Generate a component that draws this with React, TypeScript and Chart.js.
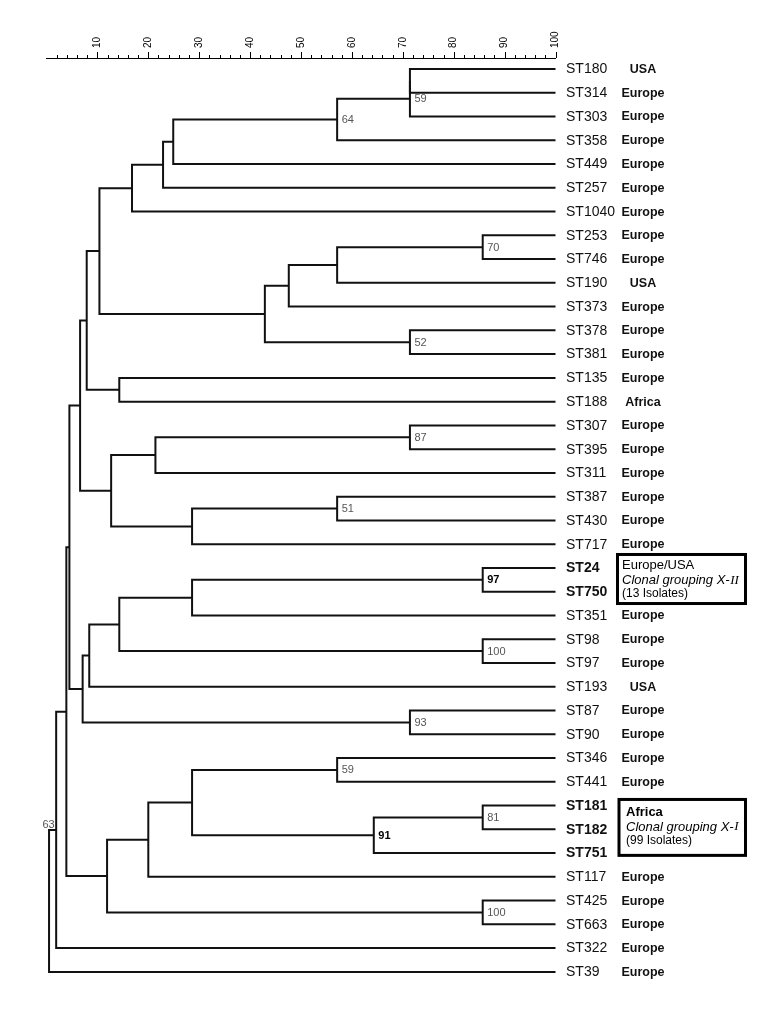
import React, { useEffect, useRef } from 'react';
import { Chart, registerables } from 'chart.js';

Chart.register(...registerables);

const FONT = '"Liberation Sans", Arial, Helvetica, sans-serif';
const SERIF = '"Liberation Serif", "Times New Roman", serif';

// ---- data ----
const leafNames = [
  'ST180', 'ST314', 'ST303', 'ST358', 'ST449', 'ST257', 'ST1040', 'ST253', 'ST746', 'ST190',
  'ST373', 'ST378', 'ST381', 'ST135', 'ST188', 'ST307', 'ST395', 'ST311', 'ST387', 'ST430',
  'ST717', 'ST24', 'ST750', 'ST351', 'ST98', 'ST97', 'ST193', 'ST87', 'ST90', 'ST346',
  'ST441', 'ST181', 'ST182', 'ST751', 'ST117', 'ST425', 'ST663', 'ST322', 'ST39',
];
const leafRegions = [
  'USA', 'Europe', 'Europe', 'Europe', 'Europe', 'Europe', 'Europe', 'Europe', 'Europe', 'USA',
  'Europe', 'Europe', 'Europe', 'Europe', 'Africa', 'Europe', 'Europe', 'Europe', 'Europe', 'Europe',
  'Europe', '', '', 'Europe', 'Europe', 'Europe', 'USA', 'Europe', 'Europe', 'Europe',
  'Europe', '', '', '', 'Europe', 'Europe', 'Europe', 'Europe', 'Europe',
];
const boldLeaves = ['ST24', 'ST750', 'ST181', 'ST182', 'ST751'];

// internal nodes: children (L = leaf index, N = node index) and similarity (%)
const nodeA = [
  'L0', 'N0', 'N1', 'N2', 'N3', 'N4', 'L7', 'N6', 'N7', 'L11', 'N8', 'N5', 'L13', 'N11', 'L15', 'N14', 'L18', 'N16', 'N15',
  'N13', 'L21', 'N20', 'L24', 'N21', 'N23', 'L27', 'N24', 'N19', 'L29', 'L31', 'N29', 'N28', 'N31', 'L35', 'N32', 'N27', 'N35', 'N36',
];
const nodeB = [
  'L1', 'L2', 'L3', 'L4', 'L5', 'L6', 'L8', 'L9', 'L10', 'L12', 'N9', 'N10', 'L14', 'N12', 'L16', 'L17', 'L19', 'L20', 'N17',
  'N18', 'L22', 'L23', 'L25', 'N22', 'L26', 'L28', 'N25', 'N26', 'L30', 'L32', 'L33', 'N30', 'L34', 'L36', 'N33', 'N34', 'L37', 'L38',
];
const nodeSimilarity = [
  71.4, 71.4, 57.1, 24.9, 22.9, 16.8, 85.7, 57.1, 47.6, 71.4, 42.9, 10.4, 14.3, 7.9, 71.4, 21.4, 57.1, 28.6, 12.7,
  6.6, 85.7, 28.6, 85.7, 14.3, 8.4, 71.4, 7.1, 4.5, 57.1, 85.7, 64.3, 28.6, 20.0, 85.7, 11.9, 3.9, 1.9, 0.5,
];
const nodeSupport = [
  '', '59', '64', '', '', '', '70', '', '', '52', '', '', '', '', '87', '', '51', '', '',
  '', '97', '', '100', '', '', '93', '', '', '59', '81', '91', '', '', '100', '', '', '63', '',
];
const boldSupport = ['97', '91'];

const tickLabels = [10, 20, 30, 40, 50, 60, 70, 80, 90, 100];
const minorStep = 2;

const boxII = ['Europe/USA', 'Clonal grouping X-', 'II', '(13 Isolates)'];
const boxI = ['Africa', 'Clonal grouping X-', 'I', '(99 Isolates)'];

// ---- layout of tree from the data ----
type P = { x: number; y: number };
const cache: Record<string, P> = {};
function pos(ref: string): P {
  if (cache[ref]) return cache[ref];
  const idx = parseInt(ref.slice(1), 10);
  let p: P;
  if (ref[0] === 'L') {
    p = { x: 100, y: idx };
  } else {
    const a = pos(nodeA[idx]);
    const b = pos(nodeB[idx]);
    p = { x: nodeSimilarity[idx], y: (a.y + b.y) / 2 };
  }
  cache[ref] = p;
  return p;
}

const datasets = nodeA.map((_, k) => {
  const a = pos(nodeA[k]);
  const b = pos(nodeB[k]);
  const s = nodeSimilarity[k];
  return {
    data: [
      { x: a.x, y: a.y },
      { x: s, y: a.y },
      { x: s, y: b.y },
      { x: b.x, y: b.y },
    ],
    showLine: true,
    borderColor: '#111',
    borderWidth: 2,
    pointRadius: 0,
    pointHoverRadius: 0,
    borderJoinStyle: 'miter' as const,
    borderCapStyle: 'butt' as const,
    tension: 0,
    clip: false as const,
  };
});

const textPlugin = {
  id: 'dendroText',
  afterDraw(chart: any) {
    const ctx: CanvasRenderingContext2D = chart.ctx;
    const xs = chart.scales.x;
    const ys = chart.scales.y;
    const axisY = chart.chartArea.top;
    ctx.save();

    // axis tick marks
    ctx.strokeStyle = '#000';
    ctx.lineWidth = 1;
    for (let v = minorStep; v <= 100; v += minorStep) {
      const px = Math.round(xs.getPixelForValue(v)) + 0.5;
      const len = tickLabels.includes(v) ? 6 : 3;
      ctx.beginPath();
      ctx.moveTo(px, axisY);
      ctx.lineTo(px, axisY - len);
      ctx.stroke();
    }
    // rotated axis labels
    ctx.fillStyle = '#000';
    ctx.font = '10px ' + FONT;
    tickLabels.forEach((t) => {
      const px = xs.getPixelForValue(t);
      ctx.save();
      ctx.translate(px, axisY - 10);
      ctx.rotate(-Math.PI / 2);
      ctx.textAlign = 'left';
      ctx.textBaseline = 'middle';
      ctx.fillText(String(t), 0, 0);
      ctx.restore();
    });

    // leaf labels and regions
    const x100 = xs.getPixelForValue(100);
    leafNames.forEach((name, i) => {
      const y = ys.getPixelForValue(i);
      ctx.fillStyle = '#111';
      ctx.textAlign = 'left';
      ctx.textBaseline = 'middle';
      ctx.font = (boldLeaves.includes(name) ? 'bold ' : '') + '14px ' + FONT;
      ctx.fillText(name, x100 + 10.5, y + 0.5);
      const r = leafRegions[i];
      if (r) {
        ctx.font = 'bold 12.5px ' + FONT;
        ctx.textAlign = 'center';
        ctx.fillText(r, x100 + 87.5, y + 0.5);
      }
    });

    // bootstrap support values
    nodeSupport.forEach((s, k) => {
      if (!s) return;
      const p = pos('N' + k);
      const px = xs.getPixelForValue(p.x);
      const py = ys.getPixelForValue(p.y);
      const bold = boldSupport.includes(s);
      ctx.font = (bold ? 'bold ' : '') + '11px ' + FONT;
      ctx.fillStyle = bold ? '#000' : '#555';
      if (k === 36) {
        ctx.textAlign = 'right';
        ctx.textBaseline = 'alphabetic';
        ctx.fillText(s, px - 1.5, py - 1.5);
      } else {
        ctx.textAlign = 'left';
        ctx.textBaseline = 'middle';
        ctx.fillText(s, px + 4.5, py + 0.5);
      }
    });

    // boxes
    const drawBox = (lines: string[], rowTop: number, rowBottom: number, lx: number, offs: number[], firstBold: boolean) => {
      const left = x100 + lx;
      const right = x100 + 191.5;
      const top = ys.getPixelForValue(rowTop);
      const bottom = ys.getPixelForValue(rowBottom);
      ctx.strokeStyle = '#000';
      ctx.lineWidth = 3;
      ctx.strokeRect(left + 1.5, top + 1.5, right - left - 3, bottom - top - 3);
      const tx = left + (firstBold ? 8.5 : 6);
      ctx.fillStyle = '#000';
      ctx.textAlign = 'left';
      ctx.textBaseline = 'middle';
      ctx.font = (firstBold ? 'bold ' : '') + '13px ' + FONT;
      ctx.fillText(lines[0], tx, top + offs[0]);
      ctx.font = 'italic 13px ' + FONT;
      ctx.fillText(lines[1], tx, top + offs[1]);
      const w = ctx.measureText(lines[1]).width;
      ctx.font = 'italic 13px ' + SERIF;
      ctx.fillText(lines[2], tx + w + 0.5, top + offs[1]);
      ctx.font = '12px ' + FONT;
      ctx.fillText(lines[3], tx, top + offs[2]);
    };
    drawBox(boxII, 20.37, 22.56, 60.5, [12, 27.7, 41], false);
    drawBox(boxI, 30.68, 33.16, 62, [14, 29, 42.3], true);

    ctx.restore();
  },
};

export default function App() {
  const ref = useRef<HTMLCanvasElement>(null);
  useEffect(() => {
    const canvas = ref.current;
    if (!canvas) return;
    const chart = new Chart(canvas, {
      type: 'scatter',
      data: { datasets: datasets as any },
      options: {
        animation: false,
        responsive: false,
        events: [],
        layout: { padding: { left: 38.5, right: 217.5, top: 8, bottom: 29.24 } },
        plugins: { legend: { display: false }, tooltip: { enabled: false } },
        scales: {
          x: {
            type: 'linear',
            position: 'top',
            min: 0,
            max: 100,
            afterFit: (scale: any) => {
              scale.height = 42;
            },
            ticks: { display: false },
            grid: { display: true, drawOnChartArea: false, drawTicks: false, color: 'transparent' },
            border: { display: true, color: '#000', width: 1 },
          },
          y: {
            type: 'linear',
            reverse: true,
            min: -0.463,
            max: 38.5,
            display: false,
          },
        },
      },
      plugins: [textPlugin],
    });
    return () => chart.destroy();
  }, []);
  return (
    <div style={{ width: 765, height: 1005 }}>
      <canvas ref={ref} width={765} height={1005} style={{ display: 'block', width: 765, height: 1005 }} />
    </div>
  );
}
